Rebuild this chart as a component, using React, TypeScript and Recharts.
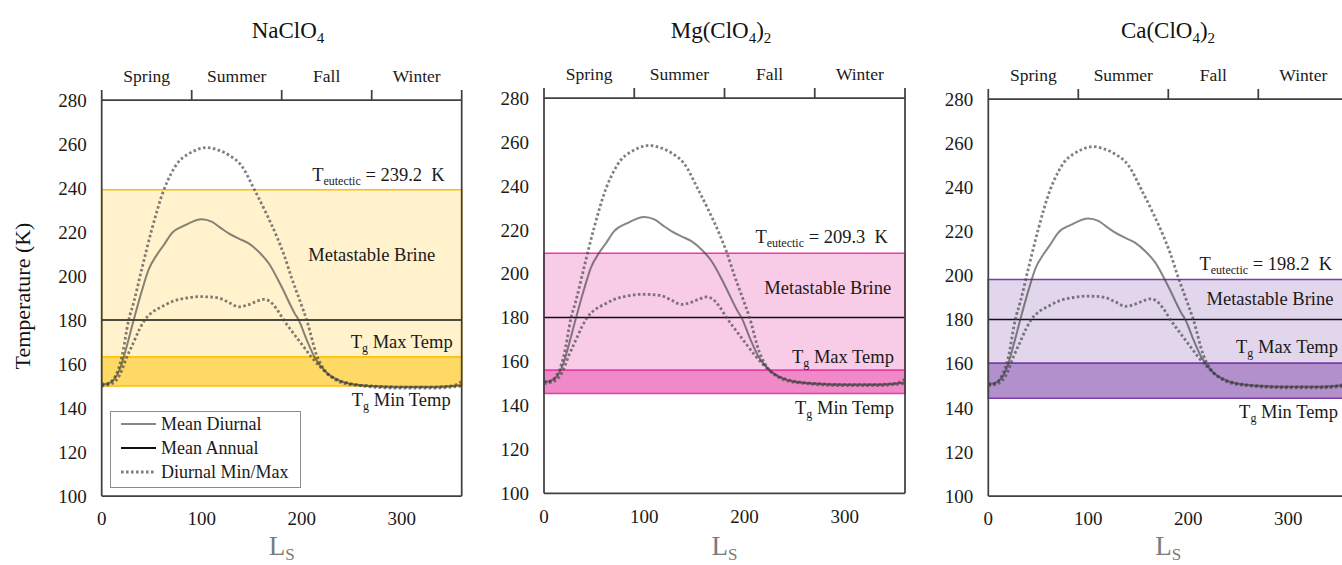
import React from "react";
import {
  ComposedChart,
  Line,
  XAxis,
  YAxis,
  ReferenceArea,
  ReferenceLine,
  ReferenceDot,
} from "recharts";

// Ls (deg) and surface temperature (K)
const maxLs = [0, 5, 13, 20, 27, 32, 40, 50, 62, 70, 77, 85, 93, 105, 115, 127, 140, 153, 165, 175, 182, 190, 198, 205, 215, 225, 235, 250, 270, 300, 330, 350, 360];
const maxT = [151, 151, 154, 163, 180, 188, 203, 221, 239, 247, 252, 255, 257, 258.4, 257.5, 255, 250, 239, 228, 218, 210, 199, 189, 180, 164, 156, 153, 151, 150, 149.5, 149.5, 150, 152];

const meanLs = [0, 10, 20, 25, 32, 40, 47, 55, 62, 70, 83, 100, 110, 120, 127, 137, 147, 157, 167, 180, 193, 197, 205, 213, 225, 235, 248, 270, 300, 330, 350, 360];
const meanT = [150.5, 152, 160, 168, 180, 193, 203, 209.5, 214, 219.4, 223, 225.8, 224.7, 221.5, 219.4, 217, 214.8, 211, 205.8, 195, 183, 180, 171, 163, 156, 153, 151, 150, 149.5, 149.5, 150, 150.5];

const minLs = [0, 10, 18, 25, 32, 38, 43, 52, 60, 70, 85, 97, 107, 117, 127, 137, 147, 155, 162, 168, 175, 182, 190, 200, 210, 220, 230, 240, 260, 300, 330, 350, 360];
const minT = [150, 151, 155, 163, 170, 176, 180, 184, 186, 188.3, 190, 190.6, 190.5, 190, 188, 186, 187, 188.5, 189.4, 188.5, 185, 180, 175, 169, 163, 158, 154, 151.5, 150, 149, 149, 149.5, 150];

const meanAnnual = 180;

const yTicks = [100, 120, 140, 160, 180, 200, 220, 240, 260, 280];
const lsTicks = [0, 100, 200, 300];
const seasonTicks = [0, 45, 90, 135, 180, 225, 270, 315, 360];
const seasons = ["Spring", "Summer", "Fall", "Winter"];

const saltNames: [string, boolean][][] = [
  [["NaClO", false], ["4", true]],
  [["Mg(ClO", false], ["4", true], [")", false], ["2", true]],
  [["Ca(ClO", false], ["4", true], [")", false], ["2", true]],
];
const eutecticT = [239.2, 209.3, 198.2];
const tgMaxT = [163.2, 156, 160.2];
const tgMinT = [150, 145.5, 144.3];

const FONT = "'Liberation Serif', 'Times New Roman', serif";
const AXIS = "#404040";
const DIURNAL = "#3c3c3c";
const MINMAX = "#4a4a4a";

const toPoints = (ls: number[], t: number[]) => ls.map((x, i) => ({ ls: x, t: t[i] }));
const maxData = toPoints(maxLs, maxT);
const meanData = toPoints(meanLs, meanT);
const minData = toPoints(minLs, minT);

function parts(p: [string, boolean][], size: number, subSize: number, shift: number) {
  let cur = 0;
  return p.map(([txt, sub], i) => {
    const target = sub ? shift : 0;
    const dy = target - cur;
    cur = target;
    return (
      <tspan key={i} dy={dy} fontSize={sub ? subSize : size}>
        {txt}
      </tspan>
    );
  });
}

const annot = (p: [string, boolean][], anchor: "start" | "middle" | "end") => (props: any) => {
  const vb = props.viewBox || {};
  const x = (vb.x ?? 0) + (vb.width ?? 0) / 2;
  const y = (vb.y ?? 0) + (vb.height ?? 0) / 2;
  return (
    <text x={x} y={y} textAnchor={anchor} fontFamily={FONT} fontSize={18.5} fill="#1a1a1a">
      {parts(p, 18.5, 12, 4)}
    </text>
  );
};

const renderSeasonTick = (props: any) => {
  const { x, y, payload } = props;
  const v = payload.value;
  if (v % 90 === 0) {
    return <line x1={x} x2={x} y1={y} y2={y - 10} stroke={AXIS} strokeWidth={1.75} />;
  }
  return (
    <text x={x} y={y - 18} textAnchor="middle" fontFamily={FONT} fontSize={17.5} fill="#1a1a1a">
      {seasons[Math.round((v - 45) / 90)]}
    </text>
  );
};

const panels = [
  {
    left: 0, width: 480, margin: { top: 60, right: 18.3, bottom: 29, left: 41.7 },
    light: "#FFF2CC", dark: "#FFD966", edge: "#FFC000", titleX: 288, lsX: 281.7,
    eut: [343, 243.2], mb: [270, 206.8], tmax: [351, 167.3], tmin: [349, 140.9],
  },
  {
    left: 470, width: 450, margin: { top: 58, right: 15, bottom: 31.7, left: 14 },
    light: "#F8CBE7", dark: "#F089C8", edge: "#E93AA6", titleX: 251, lsX: 254.5,
    eut: [343, 214], mb: [283, 190.7], tmax: [349, 159.3], tmin: [349, 136.1],
  },
  {
    left: 910, width: 460, margin: { top: 59, right: 21.7, bottom: 29, left: 18.3 },
    light: "#E2D6EC", dark: "#B290CC", edge: "#7A3DAA", titleX: 258, lsX: 258.3,
    eut: [343.7, 202.5], mb: [281.7, 186.6], tmax: [349.7, 164.8], tmin: [349.7, 135.4],
  },
];

function Panel({ idx }: { idx: number }) {
  const p = panels[idx];
  const H = 565;
  return (
    <div style={{ position: "absolute", left: p.left, top: 0, width: p.width, height: H }}>
      <ComposedChart width={p.width} height={H} margin={p.margin} data={meanData}>
        <XAxis
          xAxisId="t"
          orientation="top"
          type="number"
          dataKey="ls"
          domain={[0, 360]}
          allowDataOverflow
          ticks={seasonTicks}
          interval={0}
          height={40}
          tickSize={0}
          tickMargin={0}
          tickLine={false}
          tick={renderSeasonTick}
          axisLine={{ stroke: AXIS, strokeWidth: 1.75 }}
        />
        <XAxis
          xAxisId="b"
          orientation="bottom"
          type="number"
          dataKey="ls"
          domain={[0, 360]}
          allowDataOverflow
          ticks={lsTicks}
          interval={0}
          height={40}
          tickSize={0}
          tickMargin={16}
          tickLine={false}
          axisLine={{ stroke: AXIS, strokeWidth: 1.75 }}
          tick={{ fill: "#1a1a1a", fontSize: 19, fontFamily: FONT }}
        />
        <YAxis
          yAxisId="l"
          type="number"
          domain={[100, 280]}
          allowDataOverflow
          ticks={yTicks}
          interval={0}
          width={60}
          tickSize={0}
          tickMargin={15}
          tickLine={false}
          axisLine={{ stroke: AXIS, strokeWidth: 1.75 }}
          tick={{ fill: "#1a1a1a", fontSize: 19, fontFamily: FONT }}
        />
        <ReferenceArea
          xAxisId="b" yAxisId="l"
          y1={tgMaxT[idx]} y2={eutecticT[idx]}
          fill={p.light} fillOpacity={1} stroke={p.edge} strokeWidth={1.5}
        />
        <ReferenceArea
          xAxisId="b" yAxisId="l"
          y1={tgMinT[idx]} y2={tgMaxT[idx]}
          fill={p.dark} fillOpacity={1} stroke={p.edge} strokeWidth={1.5}
        />
        <ReferenceLine xAxisId="b" yAxisId="l" y={meanAnnual} stroke="#111" strokeWidth={1.5} />
        <ReferenceLine xAxisId="b" yAxisId="l" x={360} stroke={AXIS} strokeWidth={1.75} />
        {/* invisible series so the top season axis has data attached */}
        <Line
          xAxisId="t" yAxisId="l" dataKey="t" type="monotone"
          stroke="none" dot={false} activeDot={false} legendType="none"
          isAnimationActive={false}
        />
        <Line
          xAxisId="b" yAxisId="l" data={maxData} dataKey="t" type="monotone"
          stroke={MINMAX} strokeOpacity={0.7} strokeWidth={2.8} strokeDasharray="2.6 2.4" dot={false}
          isAnimationActive={false}
        />
        <Line
          xAxisId="b" yAxisId="l" data={minData} dataKey="t" type="monotone"
          stroke={MINMAX} strokeOpacity={0.7} strokeWidth={2.8} strokeDasharray="2.6 2.4" dot={false}
          isAnimationActive={false}
        />
        <Line
          xAxisId="b" yAxisId="l" data={meanData} dataKey="t" type="monotone"
          stroke={DIURNAL} strokeOpacity={0.62} strokeWidth={2} dot={false}
          isAnimationActive={false}
        />
        <ReferenceDot
          xAxisId="b" yAxisId="l" x={p.eut[0]} y={p.eut[1]} r={0.01} fill="none" stroke="none"
          label={{ content: annot([["T", false], ["eutectic", true], [` = ${eutecticT[idx]}\u00A0\u00A0K`, false]], "end") }}
        />
        <ReferenceDot
          xAxisId="b" yAxisId="l" x={p.mb[0]} y={p.mb[1]} r={0.01} fill="none" stroke="none"
          label={{ content: annot([["Metastable Brine", false]], "middle") }}
        />
        <ReferenceDot
          xAxisId="b" yAxisId="l" x={p.tmax[0]} y={p.tmax[1]} r={0.01} fill="none" stroke="none"
          label={{ content: annot([["T", false], ["g", true], [" Max Temp", false]], "end") }}
        />
        <ReferenceDot
          xAxisId="b" yAxisId="l" x={p.tmin[0]} y={p.tmin[1]} r={0.01} fill="none" stroke="none"
          label={{ content: annot([["T", false], ["g", true], [" Min Temp", false]], "end") }}
        />
      </ComposedChart>
      <svg
        width={p.width}
        height={H}
        style={{ position: "absolute", left: 0, top: 0, pointerEvents: "none" }}
      >
        <text x={p.titleX} y={38} textAnchor="middle" fontFamily={FONT} fontSize={23} fill="#111">
          {parts(saltNames[idx], 23, 15, 5)}
        </text>
        <text x={p.lsX} y={555} textAnchor="middle" fontFamily={FONT} fontSize={27} fill="#7a7a7a">
          {parts([["L", false], ["S", true]], 27, 17, 5)}
        </text>
        {idx === 0 && (
          <text
            x={30}
            y={296}
            transform="rotate(-90 30 296)"
            textAnchor="middle"
            fontFamily={FONT}
            fontSize={22}
            fill="#111"
          >
            Temperature (K)
          </text>
        )}
      </svg>
      {idx === 0 && (
        <svg
          width={191}
          height={77}
          style={{ position: "absolute", left: 110, top: 411, background: "#fff" }}
        >
          <rect x={0.5} y={0.5} width={190} height={76} fill="#fff" stroke="#8c8c8c" />
          <line x1={11} x2={46} y1={13} y2={13} stroke={DIURNAL} strokeOpacity={0.62} strokeWidth={2} />
          <line x1={11} x2={46} y1={37} y2={37} stroke="#111" strokeWidth={2} />
          <line x1={11} x2={46} y1={61} y2={61} stroke={MINMAX} strokeOpacity={0.7} strokeWidth={2.8} strokeDasharray="2.6 2.4" />
          <text x={51} y={19} fontFamily={FONT} fontSize={18} fill="#1a1a1a">Mean Diurnal</text>
          <text x={51} y={43} fontFamily={FONT} fontSize={18} fill="#1a1a1a">Mean Annual</text>
          <text x={51} y={67} fontFamily={FONT} fontSize={18} fill="#1a1a1a">Diurnal Min/Max</text>
        </svg>
      )}
    </div>
  );
}

export default function App() {
  return (
    <div
      style={{
        position: "fixed",
        left: 0,
        top: 0,
        width: 1342,
        height: 565,
        overflow: "hidden",
        background: "#fff",
      }}
    >
      <Panel idx={0} />
      <Panel idx={1} />
      <Panel idx={2} />
    </div>
  );
}
